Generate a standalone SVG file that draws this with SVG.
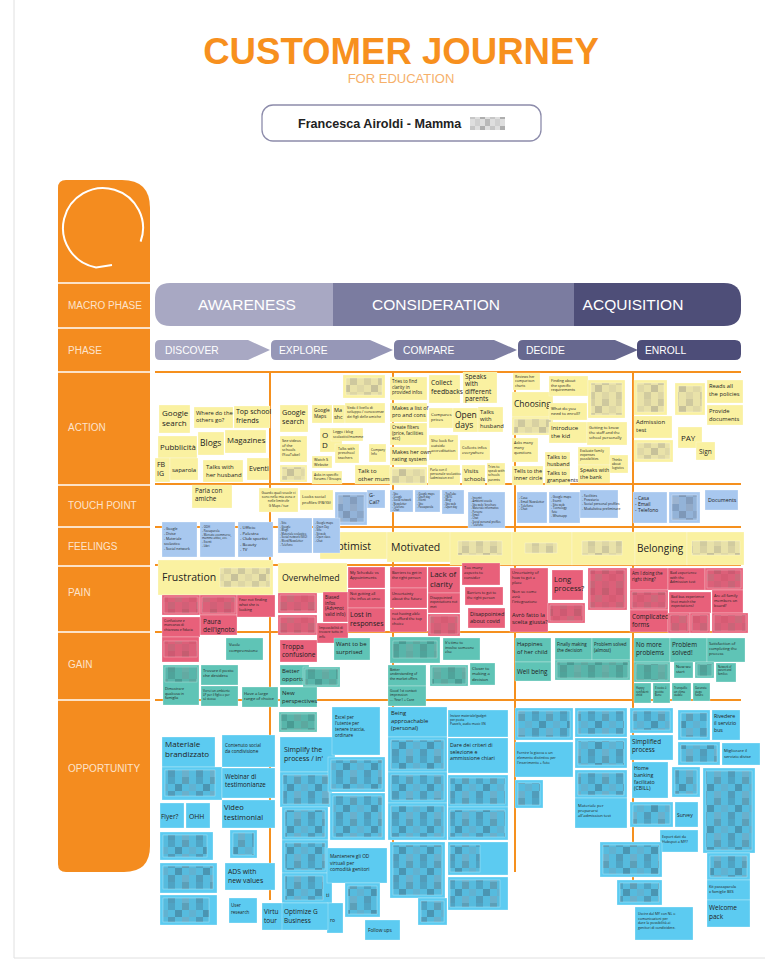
<svg xmlns="http://www.w3.org/2000/svg" width="780" height="972" viewBox="0 0 780 972">
<style>
.y{fill:#faf1a1}
.p{fill:#e8607a}
.t{fill:#5fc4b6}
.b{fill:#a8c8ef}
.o{fill:#5ccbf1}
.nt rect{stroke:#ffffff;stroke-opacity:.45;stroke-width:.6}
.nt text{font-family:"Open Sans","Liberation Sans",sans-serif;fill:#222}
.grid line{stroke:#f5901e;stroke-width:2}
.side text{font-family:"Liberation Sans",Arial,sans-serif;font-size:10px;fill:#fde3cc}
.macro text,.ph text{font-family:"Liberation Sans",Arial,sans-serif;fill:#ffffff}
</style>
<defs>
<pattern id="mY" width="28" height="21" patternUnits="userSpaceOnUse">
<rect width="28" height="21" fill="#e9e2a9"/><rect width="7" height="7" fill="#d8d1a2"/><rect x="14" width="7" height="7" fill="#cec89e"/><rect x="7" y="7" width="7" height="7" fill="#c7c19a"/><rect x="21" y="7" width="7" height="7" fill="#dfd8a6"/><rect y="14" width="7" height="7" fill="#d1cb9f"/><rect x="14" y="14" width="7" height="7" fill="#ddd6a5"/>
</pattern>
<pattern id="mP" width="28" height="21" patternUnits="userSpaceOnUse">
<rect width="28" height="21" fill="#dc6079"/><rect width="7" height="7" fill="#cd5a72"/><rect x="14" width="7" height="7" fill="#c55d70"/><rect x="7" y="7" width="7" height="7" fill="#cc6a7b"/><rect x="21" y="7" width="7" height="7" fill="#d65b73"/><rect y="14" width="7" height="7" fill="#c96578"/><rect x="14" y="14" width="7" height="7" fill="#d16077"/>
</pattern>
<pattern id="mT" width="28" height="21" patternUnits="userSpaceOnUse">
<rect width="28" height="21" fill="#58b5aa"/><rect width="7" height="7" fill="#4fa39a"/><rect x="14" width="7" height="7" fill="#63aaa2"/><rect x="7" y="7" width="7" height="7" fill="#499b93"/><rect x="21" y="7" width="7" height="7" fill="#5ca89f"/><rect y="14" width="7" height="7" fill="#529f97"/><rect x="14" y="14" width="7" height="7" fill="#68afa7"/>
</pattern>
<pattern id="mB" width="28" height="21" patternUnits="userSpaceOnUse">
<rect width="28" height="21" fill="#93b3d8"/><rect width="7" height="7" fill="#829fc2"/><rect x="14" width="7" height="7" fill="#92aac8"/><rect x="7" y="7" width="7" height="7" fill="#7e98b8"/><rect x="21" y="7" width="7" height="7" fill="#8aa6c8"/><rect y="14" width="7" height="7" fill="#9cb4d1"/><rect x="14" y="14" width="7" height="7" fill="#849dbd"/>
</pattern>
<pattern id="mO" width="28" height="21" patternUnits="userSpaceOnUse">
<rect width="28" height="21" fill="#56bbde"/><rect width="7" height="7" fill="#4fa3c3"/><rect x="14" width="7" height="7" fill="#5c9fb8"/><rect x="7" y="7" width="7" height="7" fill="#4a95b2"/><rect x="21" y="7" width="7" height="7" fill="#61b2d1"/><rect y="14" width="7" height="7" fill="#519cba"/><rect x="14" y="14" width="7" height="7" fill="#6ab0cc"/>
</pattern>
<pattern id="mG" width="20" height="14" patternUnits="userSpaceOnUse">
<rect width="20" height="14" fill="#d6d6d6"/><rect width="5" height="7" fill="#9a9a9a"/><rect x="10" width="5" height="7" fill="#b8b8b8"/><rect x="5" y="7" width="5" height="7" fill="#a8a8a8"/><rect x="15" y="7" width="5" height="7" fill="#c4c4c4"/>
</pattern>
</defs>

<!-- page -->
<rect x="0" y="0" width="780" height="972" fill="#ffffff"/>
<path d="M14,0 V958 H765" fill="none" stroke="#e0e0e0" stroke-width="1"/>

<!-- header -->
<g id="title">
<text x="401" y="64" text-anchor="middle" font-family="Liberation Sans, Arial, sans-serif" font-weight="bold" font-size="36.6" fill="#f7901e">CUSTOMER JOURNEY</text>
<text x="401" y="83" text-anchor="middle" font-family="Liberation Sans, Arial, sans-serif" font-size="13" fill="#f6b06a">FOR EDUCATION</text>
</g>
<g id="persona">
<rect x="262" y="105" width="279" height="36" rx="11" fill="#ffffff" stroke="#8d8cab" stroke-width="1.3"/>
<text x="298" y="128" font-family="Liberation Sans, Arial, sans-serif" font-weight="bold" font-size="12.6" fill="#222">Francesca Airoldi - Mamma</text>
<rect x="470" y="117" width="35" height="13" fill="url(#mG)" opacity="0.8"/>
</g>

<!-- side column -->
<g id="sidebar" class="side">
<path d="M66,180 H122 Q150,180 150,208 V846 Q150,872 124,872 H66 Q58,872 58,864 V188 Q58,180 66,180 Z" fill="#f48c1f"/>
<path d="M140.6,241.7 A40,40 0 1 0 96.1,267.4 L112,265" fill="none" stroke="#ffffff" stroke-width="2"/>
<g stroke="#ffffff" stroke-width="1.5">
<line x1="58" y1="283" x2="150" y2="283"/><line x1="58" y1="328" x2="150" y2="328"/><line x1="58" y1="372" x2="150" y2="372"/><line x1="58" y1="485" x2="150" y2="485"/><line x1="58" y1="527" x2="150" y2="527"/><line x1="58" y1="566" x2="150" y2="566"/><line x1="58" y1="632" x2="150" y2="632"/><line x1="58" y1="700" x2="150" y2="700"/>
</g>
<text x="68" y="309">MACRO PHASE</text>
<text x="68" y="354">PHASE</text>
<text x="68" y="431">ACTION</text>
<text x="68" y="509">TOUCH POINT</text>
<text x="68" y="550">FEELINGS</text>
<text x="68" y="596">PAIN</text>
<text x="68" y="668">GAIN</text>
<text x="68" y="772">OPPORTUNITY</text>
</g>

<!-- macro phases -->
<g id="macro" class="macro">
<path d="M170,283 H333 V326 H170 Q155,326 155,311 V298 Q155,283 170,283 Z" fill="#a8a8c3"/>
<rect x="333" y="283" width="241" height="43" fill="#7b7ca0"/>
<path d="M574,283 H724 Q741,283 741,300 V310 Q741,326 724,326 H574 Z" fill="#4e4e78"/>
<text x="247" y="310" text-anchor="middle" font-size="15.5">AWARENESS</text>
<text x="436" y="310" text-anchor="middle" font-size="15.5">CONSIDERATION</text>
<text x="633" y="310" text-anchor="middle" font-size="15.5">ACQUISITION</text>
</g>

<!-- phases -->
<g id="phases" class="ph">
<path d="M160,340 H248 L270,350 L248,360 H160 Q155,360 155,355 V345 Q155,340 160,340 Z" fill="#a8a8c3"/>
<path d="M276,340 H370 L393,350 L370,360 H276 Q271,360 271,355 V345 Q271,340 276,340 Z" fill="#9697b7"/>
<path d="M399,340 H494 L517,350 L494,360 H399 Q394,360 394,355 V345 Q394,340 399,340 Z" fill="#7e7fa3"/>
<path d="M523,340 H615 L638,350 L615,360 H523 Q518,360 518,355 V345 Q518,340 523,340 Z" fill="#67688f"/>
<path d="M642,340 H735 Q741,340 741,346 V354 Q741,360 735,360 H642 Q637,360 637,355 V345 Q637,340 642,340 Z" fill="#4d4d78"/>
<text x="165" y="354" font-size="10.3">DISCOVER</text>
<text x="279" y="354" font-size="10.3">EXPLORE</text>
<text x="403" y="354" font-size="10.3">COMPARE</text>
<text x="526" y="354" font-size="10.3">DECIDE</text>
<text x="645" y="354" font-size="10.3">ENROLL</text>
</g>

<!-- grid -->
<g id="grid" class="grid">
<line x1="155" y1="372" x2="741" y2="372"/>
<line x1="155" y1="484" x2="741" y2="484"/>
<line x1="155" y1="527" x2="741" y2="527"/>
<line x1="155" y1="565" x2="741" y2="565"/>
<line x1="155" y1="632" x2="741" y2="632"/>
<line x1="155" y1="700" x2="741" y2="700"/>
<line x1="270" y1="372" x2="270" y2="900"/>
<line x1="393" y1="372" x2="393" y2="850"/>
<line x1="515" y1="372" x2="515" y2="872"/>
<line x1="633" y1="372" x2="633" y2="893"/>
</g>

<!-- ACTION -->
<g class="nt">
<g id="a1"><rect class="y" x="159" y="405" width="31" height="28"/><text font-size="8" x="162" y="416"><tspan x="162">Google</tspan><tspan x="162" dy="10">search</tspan></text></g>
<g id="a2"><rect class="y" x="194" y="407" width="39" height="21"/><text font-size="5.8" x="196" y="415"><tspan x="196">Where do the</tspan><tspan x="196" dy="7">others go?</tspan></text></g>
<g id="a3"><rect class="y" x="234" y="406" width="36" height="22"/><text font-size="7" x="236" y="414"><tspan x="236">Top school</tspan><tspan x="236" dy="8.5">friends</tspan></text></g>
<g id="a4"><rect class="y" x="158" y="436" width="39" height="22"/><text font-size="7.8" x="160" y="450">Pubblicità</text></g>
<g id="a5"><rect class="y" x="198" y="432" width="26" height="23"/><text font-size="8.5" x="200" y="446">Blogs</text></g>
<g id="a6"><rect class="y" x="225" y="430" width="41" height="23"/><text font-size="7.8" x="227" y="443">Magazines</text></g>
<g id="a7"><rect class="y" x="155" y="458" width="15" height="24"/><text font-size="7" x="157" y="467"><tspan x="157">FB</tspan><tspan x="157" dy="9">IG</tspan></text></g>
<g id="a8"><rect class="y" x="170" y="458" width="28" height="22"/><text font-size="6" x="172" y="472">saparola</text></g>
<g id="a9"><rect class="y" x="203" y="460" width="40" height="22"/><text font-size="6" x="206" y="469"><tspan x="206">Talks with</tspan><tspan x="206" dy="8">her husband</tspan></text></g>
<g id="a10"><rect class="y" x="247" y="458" width="22" height="22"/><text font-size="7" x="249" y="471">Eventi</text></g>
<g id="a11"><rect class="y" x="343" y="375" width="42" height="23"/><rect x="346" y="378" width="36" height="17" fill="url(#mY)"/></g>
<g id="a12"><rect class="y" x="280" y="405" width="28" height="27"/><text font-size="7.2" x="282" y="415"><tspan x="282">Google</tspan><tspan x="282" dy="9">search</tspan></text></g>
<g id="a13"><rect class="y" x="312" y="405" width="20" height="18"/><text font-size="4.8" x="314" y="412"><tspan x="314">Google</tspan><tspan x="314" dy="6">Maps</tspan></text></g>
<g id="a14"><rect class="y" x="333" y="405" width="12" height="18"/><text font-size="5.5" x="334" y="412"><tspan x="334">Ma</tspan><tspan x="334" dy="7">shc</tspan></text></g>
<g id="a15"><rect class="y" x="345" y="403" width="40" height="20"/><text font-size="3.6" x="347" y="409"><tspan x="347">Vedo il livello di</tspan><tspan x="347" dy="4.4">sviluppo / conoscenze</tspan><tspan x="347" dy="4.4">dei figli delle amiche</tspan></text></g>
<g id="a16"><rect class="y" x="320" y="428" width="22" height="24"/><text font-size="8" x="322" y="438"><tspan x="322">O</tspan><tspan x="322" dy="10">D</tspan></text></g>
<g id="a17"><rect class="y" x="331" y="428" width="32" height="13"/><text font-size="3.6" x="333" y="433"><tspan x="333">Leggo i blog</tspan><tspan x="333" dy="4.5">scolastici/mamme</tspan></text></g>
<g id="a18"><rect class="y" x="335" y="444" width="24" height="19"/><text font-size="3.6" x="338" y="450"><tspan x="338">Talks with</tspan><tspan x="338" dy="4.4">preschool</tspan><tspan x="338" dy="4.4">teachers</tspan></text></g>
<g id="a19"><rect class="y" x="369" y="444" width="17" height="18"/><text font-size="3.2" x="371" y="451"><tspan x="371">Company</tspan><tspan x="371" dy="4">Info</tspan></text></g>
<g id="a20"><rect class="y" x="280" y="436" width="27" height="26"/><text font-size="3.8" x="282" y="442"><tspan x="282">See videos</tspan><tspan x="282" dy="4.6">of the</tspan><tspan x="282" dy="4.6">schools</tspan><tspan x="282" dy="4.6">(YouTube)</tspan></text></g>
<g id="a21"><rect class="y" x="280" y="465" width="27" height="17"/><rect x="282" y="467" width="23" height="13" fill="url(#mY)"/></g>
<g id="a22"><rect class="y" x="312" y="456" width="20" height="12"/><text font-size="3.8" x="314" y="461"><tspan x="314">Watch S</tspan><tspan x="314" dy="4.5">Website</tspan></text></g>
<g id="a23"><rect class="y" x="312" y="471" width="30" height="13"/><text font-size="3.5" x="314" y="476"><tspan x="314">Asks in specific</tspan><tspan x="314" dy="4.3">forums / Groups</tspan></text></g>
<g id="a24"><rect class="y" x="355" y="465" width="35" height="19"/><text font-size="6" x="358" y="473"><tspan x="358">Talk to</tspan><tspan x="358" dy="7.5">other mums</tspan></text></g>
<g id="a25"><rect class="y" x="390" y="377" width="37" height="23"/><text font-size="4.5" x="392" y="383"><tspan x="392">Tries to find</tspan><tspan x="392" dy="5.5">clarity in</tspan><tspan x="392" dy="5.5">provided infos</tspan></text></g>
<g id="a26"><rect class="y" x="429" y="375" width="31" height="28"/><text font-size="6.8" x="431" y="385"><tspan x="431">Collect</tspan><tspan x="431" dy="8.5">feedbacks</tspan></text></g>
<g id="a27"><rect class="y" x="463" y="372" width="34" height="31"/><text font-size="6.5" x="465" y="379"><tspan x="465">Speaks</tspan><tspan x="465" dy="7.3">with</tspan><tspan x="465" dy="7.3">different</tspan><tspan x="465" dy="7.3">parents</tspan></text></g>
<g id="a28"><rect class="y" x="390" y="403" width="37" height="19"/><text font-size="5.5" x="392" y="410"><tspan x="392">Makes a list of</tspan><tspan x="392" dy="7">pro and cons</tspan></text></g>
<g id="a29"><rect class="y" x="429" y="408" width="24" height="20"/><text font-size="4.3" x="431" y="416"><tspan x="431">Compares</tspan><tspan x="431" dy="5.3">prices</tspan></text></g>
<g id="a30"><rect class="y" x="453" y="408" width="25" height="24"/><text font-size="8.5" x="455" y="418"><tspan x="455">Open</tspan><tspan x="455" dy="10">days</tspan></text></g>
<g id="a31"><rect class="y" x="478" y="407" width="25" height="25"/><text font-size="5.8" x="480" y="414"><tspan x="480">Talks</tspan><tspan x="480" dy="7">with</tspan><tspan x="480" dy="7">husband</tspan></text></g>
<g id="a32"><rect class="y" x="390" y="423" width="37" height="22"/><text font-size="4.5" x="392" y="429"><tspan x="392">Create filters</tspan><tspan x="392" dy="5.5">(price, facilities</tspan><tspan x="392" dy="5.5">ecc)</tspan></text></g>
<g id="a33"><rect class="y" x="429" y="435" width="29" height="25"/><text font-size="4" x="431" y="442"><tspan x="431">She look for</tspan><tspan x="431" dy="5">outside</tspan><tspan x="431" dy="5">accreditation</tspan></text></g>
<g id="a34"><rect class="y" x="460" y="440" width="30" height="20"/><text font-size="4" x="462" y="449"><tspan x="462">Collects infos</tspan><tspan x="462" dy="5">everywhere</tspan></text></g>
<g id="a35"><rect class="y" x="390" y="447" width="37" height="18"/><text font-size="5.5" x="392" y="454"><tspan x="392">Makes her own</tspan><tspan x="392" dy="7">rating system</tspan></text></g>
<g id="a36"><rect class="y" x="390" y="467" width="37" height="18"/><rect x="392" y="469" width="33" height="14" fill="url(#mY)"/></g>
<g id="a37"><rect class="y" x="428" y="465" width="32" height="20"/><text font-size="3.3" x="430" y="471"><tspan x="430">Parla con il</tspan><tspan x="430" dy="4.2">personale scolastico</tspan><tspan x="430" dy="4.2">(admission ecc)</tspan></text></g>
<g id="a38"><rect class="y" x="462" y="465" width="23" height="20"/><text font-size="6" x="464" y="473"><tspan x="464">Visits</tspan><tspan x="464" dy="7.5">schools</tspan></text></g>
<g id="a39"><rect class="y" x="487" y="463" width="18" height="22"/><text font-size="3.3" x="488" y="468"><tspan x="488">Tries to</tspan><tspan x="488" dy="4.2">speak with</tspan><tspan x="488" dy="4.2">schools</tspan><tspan x="488" dy="4.2">parents</tspan></text></g>
<g id="a40"><rect class="y" x="513" y="373" width="27" height="17"/><text font-size="3.5" x="515" y="378"><tspan x="515">Reviews her</tspan><tspan x="515" dy="4.3">comparison</tspan><tspan x="515" dy="4.3">charts</tspan></text></g>
<g id="a41"><rect class="y" x="512" y="392" width="41" height="25"/><text font-size="8.5" x="514" y="407">Choosing</text></g>
<g id="a42"><rect class="y" x="512" y="417" width="41" height="18"/><rect x="514" y="419" width="37" height="14" fill="url(#mY)"/></g>
<g id="a43"><rect class="y" x="512" y="438" width="26" height="24"/><text font-size="3.8" x="514" y="444"><tspan x="514">Asks many</tspan><tspan x="514" dy="4.8">many</tspan><tspan x="514" dy="4.8">questions</tspan></text></g>
<g id="a44"><rect class="y" x="512" y="466" width="31" height="19"/><text font-size="5.5" x="514" y="473"><tspan x="514">Tells to the</tspan><tspan x="514" dy="7">inner circle</tspan></text></g>
<g id="a45"><rect class="y" x="545" y="452" width="25" height="16"/><text font-size="5.5" x="547" y="459"><tspan x="547">Talks to</tspan><tspan x="547" dy="6.5">husband</tspan></text></g>
<g id="a46"><rect class="y" x="545" y="468" width="25" height="17"/><text font-size="5.5" x="547" y="475"><tspan x="547">Talks to</tspan><tspan x="547" dy="6.5">granparents</tspan></text></g>
<g id="a47"><rect class="y" x="549" y="376" width="39" height="20"/><text font-size="3.8" x="551" y="382"><tspan x="551">Finding about</tspan><tspan x="551" dy="4.6">the specific</tspan><tspan x="551" dy="4.6">requirements</tspan></text></g>
<g id="a48"><rect class="y" x="549" y="403" width="38" height="17"/><text font-size="4.2" x="551" y="410"><tspan x="551">What do you</tspan><tspan x="551" dy="5.2">need to enroll?</tspan></text></g>
<g id="a49"><rect class="y" x="549" y="422" width="38" height="21"/><text font-size="6" x="551" y="430"><tspan x="551">Introduce</tspan><tspan x="551" dy="7.5">the kid</tspan></text></g>
<g id="a50"><rect class="y" x="588" y="380" width="37" height="38"/><rect x="591" y="383" width="31" height="32" fill="url(#mY)"/></g>
<g id="a51"><rect class="y" x="587" y="422" width="40" height="23"/><text font-size="4" x="589" y="429"><tspan x="589">Getting to know</tspan><tspan x="589" dy="5">the staff and the</tspan><tspan x="589" dy="5">school personally</tspan></text></g>
<g id="a52"><rect class="y" x="578" y="447" width="32" height="18"/><text font-size="3.4" x="580" y="452"><tspan x="580">Evaluate family</tspan><tspan x="580" dy="4.2">expenses</tspan><tspan x="580" dy="4.2">possibilities</tspan></text></g>
<g id="a53"><rect class="y" x="578" y="465" width="32" height="18"/><text font-size="5.3" x="580" y="472"><tspan x="580">Speaks with</tspan><tspan x="580" dy="6.5">the bank</tspan></text></g>
<g id="a54"><rect class="y" x="610" y="455" width="18" height="18"/><text font-size="3.2" x="612" y="461"><tspan x="612">Thinks</tspan><tspan x="612" dy="4">about</tspan><tspan x="612" dy="4">logistics</tspan></text></g>
<g id="a55"><rect class="y" x="634" y="380" width="33" height="35"/><rect x="637" y="383" width="27" height="29" fill="url(#mY)"/></g>
<g id="a56"><rect class="y" x="634" y="416" width="38" height="22"/><text font-size="6" x="636" y="424"><tspan x="636">Admission</tspan><tspan x="636" dy="7.5">test</tspan></text></g>
<g id="a57"><rect class="y" x="634" y="440" width="39" height="22"/><rect x="637" y="443" width="33" height="16" fill="url(#mY)"/></g>
<g id="a58"><rect class="y" x="675" y="383" width="30" height="32"/><rect x="678" y="386" width="24" height="26" fill="url(#mY)"/></g>
<g id="a59"><rect class="y" x="707" y="380" width="36" height="23"/><text font-size="5.8" x="709" y="388"><tspan x="709">Reads all</tspan><tspan x="709" dy="7.5">the policies</tspan></text></g>
<g id="a60"><rect class="y" x="707" y="405" width="36" height="20"/><text font-size="5.8" x="709" y="413"><tspan x="709">Provide</tspan><tspan x="709" dy="7.5">documents</tspan></text></g>
<g id="a61"><rect class="y" x="678" y="427" width="24" height="21"/><text font-size="8" x="681" y="441">PAY</text></g>
<g id="a62"><rect class="y" x="696" y="442" width="19" height="18"/><text font-size="6.5" x="699" y="454">Sign</text></g>
</g>

<!-- TOUCH POINT -->
<g class="nt">
<g id="t1"><rect class="y" x="192" y="485" width="40" height="23"/><text font-size="6.3" x="195" y="493"><tspan x="195">Parla con</tspan><tspan x="195" dy="8">amiche</tspan></text></g>
<g id="t2"><rect class="y" x="259" y="488" width="39" height="24"/><text font-size="3.3" text-anchor="middle" x="278.5" y="494"><tspan x="278.5">Guardo quali scuole ci</tspan><tspan x="278.5" dy="4.2">sono nella mia zona e</tspan><tspan x="278.5" dy="4.2">nelle limitrofe</tspan><tspan x="278.5" dy="4.2">G Maps / tue</tspan></text></g>
<g id="t3"><rect class="y" x="300" y="490" width="33" height="20"/><text font-size="4.2" x="302" y="498"><tspan x="302">Looks social</tspan><tspan x="302" dy="5.5">profiles (FB/IG)</tspan></text></g>
<g id="t5"><rect class="b" x="367" y="490" width="18" height="18"/><text font-size="5.5" x="369" y="497"><tspan x="369">G-</tspan><tspan x="369" dy="7">Cal?</tspan></text></g>
<g id="t6"><rect class="b" x="390" y="490" width="23" height="22"/><text font-size="2.6" x="392" y="495"><tspan x="392">- Sito</tspan><tspan x="392" dy="3.2">- Google</tspan><tspan x="392" dy="3.2">- Social network</tspan><tspan x="392" dy="3.2">- Newsletter</tspan><tspan x="392" dy="3.2">- Telefono</tspan><tspan x="392" dy="3.2">- Chat</tspan></text></g>
<g id="t7"><rect class="b" x="415" y="490" width="25" height="22"/><text font-size="2.6" x="417" y="495"><tspan x="417">- Google maps</tspan><tspan x="417" dy="3.2">- Open day</tspan><tspan x="417" dy="3.2">- Eventi</tspan><tspan x="417" dy="3.2">- Sito</tspan><tspan x="417" dy="3.2">- Passaparola</tspan></text></g>
<g id="t8"><rect class="b" x="442" y="490" width="22" height="24"/><text font-size="2.6" x="444" y="495"><tspan x="444">- YouTube</tspan><tspan x="444" dy="3.2">- FB/IG</tspan><tspan x="444" dy="3.2">- Blog</tspan><tspan x="444" dy="3.2">- Sito web</tspan><tspan x="444" dy="3.2">- Open day</tspan></text></g>
<g id="t9"><rect class="b" x="468" y="492" width="37" height="36"/><text font-size="2.6" x="471" y="499"><tspan x="471">- Incontri</tspan><tspan x="471" dy="3.4">- Ambienti scuola</tspan><tspan x="471" dy="3.4">- Sito web / brochure</tspan><tspan x="471" dy="3.4">- Materiale informativo</tspan><tspan x="471" dy="3.4">- Persone</tspan><tspan x="471" dy="3.4">- Email</tspan><tspan x="471" dy="3.4">- Chat</tspan><tspan x="471" dy="3.4">- Social personal profiles</tspan><tspan x="471" dy="3.4">- Telefono</tspan></text></g>
<g id="t10"><rect class="b" x="517" y="492" width="30" height="31"/><text font-size="3" x="519" y="499"><tspan x="519">- Casa</tspan><tspan x="519" dy="3.8">- Email Newsletter</tspan><tspan x="519" dy="3.8">- Telefono</tspan><tspan x="519" dy="3.8">- Chat</tspan></text></g>
<g id="t11"><rect class="b" x="549" y="492" width="31" height="31"/><text font-size="3" x="551" y="498"><tspan x="551">- Google maps</tspan><tspan x="551" dy="3.8">- Eventi</tspan><tspan x="551" dy="3.8">- Sito web</tspan><tspan x="551" dy="3.8">- Tecnology</tspan><tspan x="551" dy="3.8">  fate</tspan><tspan x="551" dy="3.8">- Whatsapp</tspan></text></g>
<g id="t12"><rect class="b" x="580" y="490" width="38" height="28"/><text font-size="3.3" x="582" y="497"><tspan x="582">- Facilities</tspan><tspan x="582" dy="4.2">- Prezziario</tspan><tspan x="582" dy="4.2">- Social personal profiles</tspan><tspan x="582" dy="4.2">- Modulistica preliminare</tspan></text></g>
<g id="t13"><rect class="b" x="633" y="492" width="34" height="31"/><text font-size="5" x="635" y="500"><tspan x="635">- Casa</tspan><tspan x="635" dy="6.2">- Email</tspan><tspan x="635" dy="6.2">- Telefono</tspan></text></g>
<g id="t14"><rect class="b" x="669" y="492" width="31" height="31"/><rect x="672" y="495" width="25" height="25" fill="url(#mB)"/></g>
<g id="t15"><rect class="b" x="705" y="490" width="33" height="20"/><text font-size="5.3" x="708" y="502">Documents</text></g>
<g id="t16"><rect class="b" x="162" y="522" width="35" height="35"/><text font-size="3.5" x="164" y="530"><tspan x="164">- Google</tspan><tspan x="164" dy="5">- Divise</tspan><tspan x="164" dy="5">- Materiale</tspan><tspan x="164" dy="5">scolastico</tspan><tspan x="164" dy="5">- Social network</tspan></text></g>
<g id="t17"><rect class="b" x="200" y="522" width="35" height="35"/><text font-size="2.8" x="202" y="528"><tspan x="202">- OOH</tspan><tspan x="202" dy="3.8">- Passaparola</tspan><tspan x="202" dy="3.8">- Mercato ecommerce,</tspan><tspan x="202" dy="3.8">mamme attive, ecc.</tspan><tspan x="202" dy="3.8">- Eventi</tspan><tspan x="202" dy="3.8">- Libri</tspan></text></g>
<g id="t18"><rect class="b" x="238" y="522" width="35" height="35"/><text font-size="4.3" x="240" y="529"><tspan x="240">- Ufficio</tspan><tspan x="240" dy="5.5">- Palestra</tspan><tspan x="240" dy="5.5">- Club sportivi</tspan><tspan x="240" dy="5.5">- Beauty</tspan><tspan x="240" dy="5.5">- TV</tspan></text></g>
</g>

<!-- FEELINGS -->
<g class="nt">
<g id="f1"><rect class="y" x="320" y="532" width="67" height="27"/><text font-size="10.5" x="329" y="550">Optimist</text></g>
<g id="f2"><rect class="y" x="387" y="532" width="65" height="30"/><text font-size="10.5" x="391" y="551">Motivated</text></g>
<g id="f3"><rect class="y" x="450" y="532" width="62" height="33"/><rect x="458" y="541" width="44" height="14" fill="url(#mY)"/></g>
<g id="f4"><rect class="y" x="512" y="532" width="60" height="33"/><rect x="525" y="543" width="32" height="10" fill="url(#mY)"/></g>
<g id="f5"><rect class="y" x="572" y="532" width="63" height="33"/><rect x="582" y="541" width="40" height="14" fill="url(#mY)"/></g>
<g id="f6"><rect class="y" x="635" y="532" width="52" height="33"/><text font-size="10" x="637" y="552">Belonging</text></g>
<g id="f7"><rect class="y" x="687" y="532" width="57" height="33"/><rect x="692" y="541" width="48" height="14" fill="url(#mY)"/></g>
<g id="t4"><rect class="b" x="335" y="492" width="32" height="33"/><rect x="338" y="495" width="26" height="27" fill="url(#mB)"/></g>
<g id="t19"><rect class="b" x="278" y="518" width="34" height="35"/><text font-size="2.7" x="280" y="524"><tspan x="280">- Sito</tspan><tspan x="280" dy="3.6">- Google</tspan><tspan x="280" dy="3.6">- Blogs</tspan><tspan x="280" dy="3.6">- Materiale scolastico</tspan><tspan x="280" dy="3.6">- Social network (SEO)</tspan><tspan x="280" dy="3.6">- Word/Newsletter</tspan><tspan x="280" dy="3.6">- Telefono</tspan></text></g>
<g id="t20"><rect class="b" x="313" y="518" width="27" height="35"/><text font-size="2.7" x="315" y="524"><tspan x="315">- Google maps</tspan><tspan x="315" dy="3.6">- Open Day</tspan><tspan x="315" dy="3.6">- Sito</tspan><tspan x="315" dy="3.6">- Sit web</tspan><tspan x="315" dy="3.6">- Open class</tspan><tspan x="315" dy="3.6">- Chat</tspan></text></g>
</g>

<!-- PAIN -->
<g class="nt">
<g id="f8"><rect class="y" x="158" y="560" width="115" height="35"/><text font-size="10.5" x="162" y="581">Frustration</text><rect x="220" y="568" width="50" height="19" fill="url(#mY)"/></g>
<g id="f9"><rect class="y" x="278" y="563" width="69" height="30"/><text font-size="8.8" x="282" y="581">Overwhelmed</text></g>
<g id="p1"><rect class="p" x="162" y="595" width="38" height="20"/><rect x="164" y="597" width="34" height="16" fill="url(#mP)"/></g>
<g id="p2"><rect class="p" x="200" y="595" width="37" height="20"/><rect x="202" y="597" width="33" height="16" fill="url(#mP)"/></g>
<g id="p3"><rect class="p" x="200" y="615" width="37" height="20"/><text font-size="6.5" x="203" y="624"><tspan x="203">Paura</tspan><tspan x="203" dy="8">dell'ignoto</tspan></text></g>
<g id="p4"><rect class="p" x="237" y="595" width="38" height="22"/><text font-size="3.8" x="239" y="601"><tspan x="239">Fear not finding</tspan><tspan x="239" dy="4.8">what she is</tspan><tspan x="239" dy="4.8">looking</tspan></text></g>
<g id="p5"><rect class="p" x="162" y="617" width="38" height="20"/><text font-size="3.4" x="164" y="622"><tspan x="164">Confusione e</tspan><tspan x="164" dy="4.3">mancanza di</tspan><tspan x="164" dy="4.3">chiarezza e fiducia</tspan></text></g>
<g id="p5b"><rect class="p" x="162" y="637" width="37" height="25"/><rect x="164" y="641" width="33" height="16" fill="url(#mP)"/></g>
<g id="p6"><rect class="p" x="278" y="593" width="39" height="20"/><rect x="280" y="595" width="35" height="16" fill="url(#mP)"/></g>
<g id="p7"><rect class="p" x="278" y="615" width="39" height="20"/><rect x="280" y="617" width="35" height="16" fill="url(#mP)"/></g>
<g id="p8"><rect class="p" x="323" y="592" width="25" height="30"/><text font-size="4.5" x="325" y="599"><tspan x="325">Biased</tspan><tspan x="325" dy="5.5">infos</tspan><tspan x="325" dy="5.5">(Adv=not</tspan><tspan x="325" dy="5.5">valid info)</tspan></text></g>
<g id="p9"><rect class="p" x="317" y="623" width="31" height="20"/><text font-size="3.4" x="319" y="629"><tspan x="319">Impossibilità di</tspan><tspan x="319" dy="4.3">trovare tutto in</tspan><tspan x="319" dy="4.3">info</tspan></text></g>
<g id="p10"><rect class="p" x="348" y="567" width="37" height="21"/><text font-size="4" x="350" y="574"><tspan x="350">My Schedule vs</tspan><tspan x="350" dy="5">Appointments</tspan></text></g>
<g id="p11"><rect class="p" x="348" y="589" width="37" height="19"/><text font-size="3.9" x="350" y="595"><tspan x="350">Not getting all</tspan><tspan x="350" dy="5">the infos at once</tspan></text></g>
<g id="p12"><rect class="p" x="348" y="608" width="37" height="24"/><text font-size="7" x="350" y="617"><tspan x="350">Lost in</tspan><tspan x="350" dy="8.5">responses</tspan></text></g>
<g id="p13"><rect class="p" x="390" y="567" width="37" height="21"/><text font-size="3.8" x="392" y="574"><tspan x="392">Barriers to get in</tspan><tspan x="392" dy="5">the right person</tspan></text></g>
<g id="p14"><rect class="p" x="390" y="588" width="37" height="20"/><text font-size="3.9" x="392" y="595"><tspan x="392">Uncertainty</tspan><tspan x="392" dy="5">about the future</tspan></text></g>
<g id="p15"><rect class="p" x="390" y="609" width="37" height="23"/><text font-size="3.9" x="392" y="615"><tspan x="392">not having able</tspan><tspan x="392" dy="5">to afford the top</tspan><tspan x="392" dy="5">choice</tspan></text></g>
<g id="p16"><rect class="p" x="428" y="567" width="32" height="26"/><text font-size="8" x="430" y="577"><tspan x="430">Lack of</tspan><tspan x="430" dy="9.5">clarity</tspan></text></g>
<g id="p17"><rect class="p" x="428" y="593" width="32" height="20"/><text font-size="3.5" x="430" y="599"><tspan x="430">Disappointed</tspan><tspan x="430" dy="4.4">expectations not</tspan><tspan x="430" dy="4.4">met</tspan></text></g>
<g id="p18"><rect class="p" x="428" y="614" width="32" height="22"/><rect x="430" y="616" width="28" height="18" fill="url(#mP)"/></g>
<g id="p19"><rect class="p" x="462" y="563" width="38" height="22"/><text font-size="4" x="464" y="569"><tspan x="464">Too many</tspan><tspan x="464" dy="5">aspects to</tspan><tspan x="464" dy="5">consider</tspan></text></g>
<g id="p20"><rect class="p" x="465" y="587" width="38" height="18"/><text font-size="3.7" x="467" y="594"><tspan x="467">Barriers to get to</tspan><tspan x="467" dy="5">the right person</tspan></text></g>
<g id="p21"><rect class="p" x="468" y="608" width="37" height="20"/><text font-size="5.5" x="470" y="616"><tspan x="470">Disappointed</tspan><tspan x="470" dy="7">about covid</tspan></text></g>
<g id="p22"><rect class="p" x="510" y="568" width="38" height="64"/><text font-size="4" x="512" y="574"><tspan x="512">Uncertainty of</tspan><tspan x="512" dy="4.8">how to get a</tspan><tspan x="512" dy="4.8">place</tspan></text><text font-size="4" x="512" y="593"><tspan x="512">Non so come</tspan><tspan x="512" dy="4.8">avrà</tspan><tspan x="512" dy="4.8">l'integrazione</tspan></text><text font-size="5.8" x="512" y="617"><tspan x="512">Avrò fatto la</tspan><tspan x="512" dy="7">scelta giusta?</tspan></text></g>
<g id="p23"><rect class="p" x="552" y="570" width="31" height="30"/><text font-size="7.5" x="554" y="582"><tspan x="554">Long</tspan><tspan x="554" dy="9">process?</tspan></text></g>
<g id="p24"><rect class="p" x="548" y="603" width="37" height="20"/><rect x="550" y="605" width="33" height="16" fill="url(#mP)"/></g>
<g id="p25"><rect class="p" x="588" y="568" width="39" height="42"/><rect x="590" y="570" width="35" height="38" fill="url(#mP)"/></g>
<g id="p26"><rect class="p" x="630" y="568" width="38" height="22"/><text font-size="4.5" x="632" y="575"><tspan x="632">Am I doing the</tspan><tspan x="632" dy="5.5">right thing?</tspan></text></g>
<g id="p27"><rect class="p" x="630" y="590" width="38" height="20"/><rect x="632" y="592" width="34" height="16" fill="url(#mP)"/></g>
<g id="p28"><rect class="p" x="630" y="610" width="38" height="22"/><text font-size="6.3" x="632" y="619"><tspan x="632">Complicated</tspan><tspan x="632" dy="8">forms</tspan></text></g>
<g id="p29"><rect class="p" x="668" y="568" width="37" height="22"/><text font-size="3.7" x="670" y="574"><tspan x="670">Bad experience</tspan><tspan x="670" dy="4.6">with the</tspan><tspan x="670" dy="4.6">Admission test</tspan></text></g>
<g id="p30"><rect class="p" x="705" y="568" width="38" height="22"/><rect x="707" y="570" width="34" height="18" fill="url(#mP)"/></g>
<g id="p31"><rect class="p" x="669" y="592" width="42" height="21"/><text font-size="3.6" x="671" y="598"><tspan x="671">Bad bus experience</tspan><tspan x="671" dy="4.6">(not match the</tspan><tspan x="671" dy="4.6">expectations)</tspan></text></g>
<g id="p32"><rect class="p" x="712" y="590" width="31" height="23"/><text font-size="3.9" x="714" y="597"><tspan x="714">Are all family</tspan><tspan x="714" dy="4.8">members on</tspan><tspan x="714" dy="4.8">board?</tspan></text></g>
<g id="p33"><rect class="p" x="668" y="613" width="22" height="20"/><rect x="670" y="615" width="18" height="16" fill="url(#mP)"/></g>
<g id="p34"><rect class="p" x="690" y="613" width="20" height="20"/><rect x="692" y="615" width="16" height="16" fill="url(#mP)"/></g>
<g id="p35"><rect class="p" x="712" y="613" width="36" height="20"/><rect x="714" y="615" width="32" height="16" fill="url(#mP)"/></g>
</g>

<!-- GAIN -->
<g class="nt">
<g id="g1"><rect class="t" x="226" y="638" width="37" height="22"/><text font-size="4.3" x="229" y="646"><tspan x="229">Vuole</tspan><tspan x="229" dy="5.5">comprensione</tspan></text></g>
<g id="g2"><rect class="p" x="280" y="640" width="37" height="22"/><text font-size="6.5" x="282" y="649"><tspan x="282">Troppa</tspan><tspan x="282" dy="8">confusione</tspan></text></g>
<g id="g3"><rect class="t" x="334" y="638" width="36" height="22"/><text font-size="6" x="336" y="646"><tspan x="336">Want to be</tspan><tspan x="336" dy="7.5">surprised</tspan></text></g>
<g id="g4"><rect class="t" x="390" y="637" width="50" height="26"/><rect x="393" y="641" width="44" height="17" fill="url(#mT)"/></g>
<g id="g5"><rect class="t" x="443" y="638" width="37" height="22"/><text font-size="3.7" x="445" y="644"><tspan x="445">It's time to</tspan><tspan x="445" dy="4.6">involve someone</tspan><tspan x="445" dy="4.6">else</tspan></text></g>
<g id="g6"><rect class="t" x="515" y="638" width="36" height="24"/><text font-size="5.8" x="517" y="646"><tspan x="517">Happines</tspan><tspan x="517" dy="7.5">of her child</tspan></text></g>
<g id="g7"><rect class="t" x="515" y="662" width="36" height="19"/><text font-size="6.3" x="517" y="674">Well being</text></g>
<g id="g8"><rect class="t" x="555" y="638" width="37" height="22"/><text font-size="4.5" x="557" y="646"><tspan x="557">Finally making</tspan><tspan x="557" dy="5.5">the decision</tspan></text></g>
<g id="g9"><rect class="t" x="592" y="638" width="38" height="22"/><text font-size="4.5" x="594" y="646"><tspan x="594">Problem solved</tspan><tspan x="594" dy="5.5">(almost)</tspan></text></g>
<g id="g10"><rect class="t" x="555" y="660" width="75" height="20"/><rect x="557" y="662" width="71" height="16" fill="url(#mT)"/></g>
<g id="g11"><rect class="t" x="634" y="638" width="36" height="24"/><text font-size="6.3" x="636" y="647"><tspan x="636">No more</tspan><tspan x="636" dy="7.5">problems</tspan></text></g>
<g id="g12"><rect class="t" x="670" y="638" width="37" height="24"/><text font-size="6.3" x="672" y="647"><tspan x="672">Problem</tspan><tspan x="672" dy="7.5">solved!</tspan></text></g>
<g id="g13"><rect class="t" x="707" y="638" width="38" height="24"/><text font-size="4" x="709" y="645"><tspan x="709">Satisfaction of</tspan><tspan x="709" dy="5">completing the</tspan><tspan x="709" dy="5">process</tspan></text></g>
<g id="g14"><rect class="t" x="634" y="662" width="36" height="20"/><rect x="636" y="664" width="32" height="16" fill="url(#mT)"/></g>
<g id="g15"><rect class="t" x="674" y="662" width="19" height="16"/><text font-size="4" x="676" y="668"><tspan x="676">Now we</tspan><tspan x="676" dy="5">start</tspan></text></g>
<g id="g16"><rect class="t" x="695" y="662" width="19" height="16"/><rect x="697" y="664" width="15" height="12" fill="url(#mT)"/></g>
<g id="g17"><rect class="t" x="716" y="663" width="20" height="19"/><text font-size="2.6" x="718" y="668"><tspan x="718">Network of</tspan><tspan x="718" dy="3.3">parent and</tspan><tspan x="718" dy="3.3">families</tspan></text></g>
<g id="g18"><rect class="t" x="634" y="683" width="17" height="20"/><text font-size="2.8" x="636" y="689"><tspan x="636">Happy</tspan><tspan x="636" dy="3.5">confident</tspan><tspan x="636" dy="3.5">child</tspan></text></g>
<g id="g19"><rect class="t" x="653" y="683" width="17" height="20"/><text font-size="2.8" x="655" y="689"><tspan x="655">Il costo è</tspan><tspan x="655" dy="3.5">gestito</tspan><tspan x="655" dy="3.5">bene</tspan></text></g>
<g id="g20"><rect class="t" x="672" y="683" width="19" height="18"/><text font-size="2.8" x="674" y="689"><tspan x="674">Tranquillo</tspan><tspan x="674" dy="3.5">un clima</tspan><tspan x="674" dy="3.5">stabile</tspan></text></g>
<g id="g21"><rect class="t" x="693" y="683" width="17" height="18"/><text font-size="2.8" x="695" y="689"><tspan x="695">Garanzia</tspan><tspan x="695" dy="3.5">stage</tspan><tspan x="695" dy="3.5">futuro</tspan></text></g>
<g id="g22"><rect class="t" x="163" y="665" width="36" height="40"/><rect x="165" y="667" width="32" height="15" fill="url(#mT)"/><text font-size="3.6" x="165" y="690"><tspan x="165">Dimostrare</tspan><tspan x="165" dy="4.6">qualcosa in</tspan><tspan x="165" dy="4.6">famiglia</tspan></text></g>
<g id="g23"><rect class="t" x="201" y="665" width="37" height="20"/><text font-size="4.2" x="203" y="672"><tspan x="203">Trovare il posto</tspan><tspan x="203" dy="5.3">che desidera</tspan></text></g>
<g id="g24"><rect class="t" x="201" y="686" width="37" height="20"/><text font-size="3" x="203" y="692"><tspan x="203">Vorrei un ambiente</tspan><tspan x="203" dy="3.9">LP per il figlio e per</tspan><tspan x="203" dy="3.9">sé stessa</tspan></text></g>
<g id="g25"><rect class="t" x="242" y="687" width="36" height="20"/><text font-size="4.2" x="244" y="695"><tspan x="244">Have a large</tspan><tspan x="244" dy="5.3">range of choice</tspan></text></g>
<g id="g26"><rect class="t" x="280" y="665" width="29" height="20"/><text font-size="6" x="282" y="673"><tspan x="282">Better</tspan><tspan x="282" dy="7.5">opportu</tspan></text></g>
<g id="g27"><rect class="t" x="303" y="667" width="37" height="20"/><rect x="305" y="669" width="33" height="16" fill="url(#mT)"/></g>
<g id="g28"><rect class="t" x="280" y="687" width="37" height="20"/><text font-size="6" x="282" y="695"><tspan x="282">New</tspan><tspan x="282" dy="7.5">perspectives</tspan></text></g>
<g id="g29"><rect class="t" x="388" y="665" width="38" height="21"/><text font-size="3.4" x="390" y="671"><tspan x="390">Better</tspan><tspan x="390" dy="4.4">understanding of</tspan><tspan x="390" dy="4.4">the market offers</tspan></text></g>
<g id="g30"><rect class="t" x="388" y="686" width="38" height="20"/><text font-size="3.4" x="390" y="692"><tspan x="390">Good 1st contact</tspan><tspan x="390" dy="4.4">impression</tspan><tspan x="390" dy="4.4">--- Year1 + Care</tspan></text></g>
<g id="g31"><rect class="t" x="430" y="665" width="38" height="21"/><rect x="432" y="667" width="34" height="17" fill="url(#mT)"/></g>
<g id="g32"><rect class="t" x="470" y="663" width="25" height="22"/><text font-size="4.2" x="472" y="670"><tspan x="472">Closer to</tspan><tspan x="472" dy="5.3">making a</tspan><tspan x="472" dy="5.3">decision</tspan></text></g>
</g>

<!-- OPPORTUNITY -->
<g class="nt">
<g id="o0"><rect class="t" x="279" y="712" width="38" height="20"/><rect x="281" y="714" width="34" height="16" fill="url(#mT)"/></g>
<g id="o1"><rect class="o" x="162" y="737" width="53" height="30"/><text font-size="8" x="165" y="747"><tspan x="165">Materiale</tspan><tspan x="165" dy="10">brandizzato</tspan></text></g>
<g id="o2"><rect class="o" x="162" y="767" width="60" height="33"/><rect x="165" y="770" width="50" height="26" fill="url(#mO)"/></g>
<g id="o3"><rect class="o" x="222" y="735" width="53" height="32"/><text font-size="4.6" x="225" y="747"><tspan x="225">Contenuto social</tspan><tspan x="225" dy="6">da condivisione</tspan></text></g>
<g id="o4"><rect class="o" x="222" y="768" width="53" height="30"/><text font-size="6.2" x="225" y="779"><tspan x="225">Webinar di</tspan><tspan x="225" dy="8">testimonianze</tspan></text></g>
<g id="o5"><rect class="o" x="222" y="800" width="53" height="28"/><text font-size="7.5" x="224" y="810"><tspan x="224">Video</tspan><tspan x="224" dy="10">testimonial</tspan></text></g>
<g id="o6"><rect class="o" x="160" y="803" width="24" height="25"/><text font-size="6.5" x="161" y="819">Flyer?</text></g>
<g id="o7"><rect class="o" x="186" y="803" width="24" height="25"/><text font-size="6.8" x="189" y="819">OHH</text></g>
<g id="o8"><rect class="o" x="160" y="832" width="53" height="28"/><rect x="163" y="835" width="44" height="22" fill="url(#mO)"/></g>
<g id="o9"><rect class="o" x="160" y="863" width="57" height="30"/><rect x="163" y="866" width="50" height="23" fill="url(#mO)"/></g>
<g id="o10"><rect class="o" x="160" y="895" width="57" height="30"/><rect x="163" y="898" width="46" height="24" fill="url(#mO)"/></g>
<g id="o11"><rect class="o" x="230" y="830" width="27" height="28"/><rect x="233" y="833" width="21" height="22" fill="url(#mO)"/></g>
<g id="o12"><rect class="o" x="225" y="863" width="50" height="27"/><text font-size="6.8" x="228" y="874"><tspan x="228">ADS with</tspan><tspan x="228" dy="9">new values</tspan></text></g>
<g id="o13"><rect class="o" x="229" y="898" width="28" height="25"/><text font-size="4.5" x="231" y="907"><tspan x="231">User</tspan><tspan x="231" dy="6.5">research</tspan></text></g>
<g id="o14"><rect class="o" x="280" y="737" width="55" height="35"/><text font-size="7" x="284" y="752"><tspan x="284">Simplify the</tspan><tspan x="284" dy="9">process / in'</tspan></text></g>
<g id="o15"><rect class="o" x="280" y="772" width="52" height="35"/><rect x="283" y="775" width="46" height="29" fill="url(#mO)"/></g>
<g id="o16"><rect class="o" x="332" y="707" width="48" height="48"/><text font-size="4.5" x="335" y="719"><tspan x="335">Excel per</tspan><tspan x="335" dy="6">l'utente per</tspan><tspan x="335" dy="6">tenere traccia,</tspan><tspan x="335" dy="6">ordinare</tspan></text></g>
<g id="o17"><rect class="o" x="328" y="757" width="57" height="35"/><rect x="331" y="760" width="51" height="29" fill="url(#mO)"/></g>
<g id="o18"><rect class="o" x="330" y="793" width="55" height="47"/><rect x="333" y="796" width="49" height="41" fill="url(#mO)"/></g>
<g id="o19"><rect class="o" x="282" y="807" width="46" height="33"/><rect x="285" y="810" width="40" height="27" fill="url(#mO)"/></g>
<g id="o20"><rect class="o" x="282" y="840" width="46" height="33"/><rect x="285" y="843" width="40" height="27" fill="url(#mO)"/></g>
<g id="o21"><rect class="o" x="282" y="873" width="50" height="30"/><rect x="285" y="876" width="38" height="24" fill="url(#mO)"/><text font-size="5.5" x="326" y="897">ti</text></g>
<g id="o22"><rect class="o" x="327" y="848" width="60" height="35"/><text font-size="4.8" x="330" y="858"><tspan x="330">Mantenere gli OD</tspan><tspan x="330" dy="6.5">virtuali per</tspan><tspan x="330" dy="6.5">comodità genitori</tspan></text></g>
<g id="o23"><rect class="o" x="345" y="883" width="35" height="34"/><rect x="348" y="886" width="29" height="28" fill="url(#mO)"/></g>
<g id="o26"><rect class="o" x="327" y="903" width="16" height="30"/><text font-size="5" x="330" y="922">ro</text></g>
<g id="o24"><rect class="o" x="262" y="903" width="22" height="27"/><text font-size="6.5" x="264" y="914"><tspan x="264">Virtu</tspan><tspan x="264" dy="9">tour</tspan></text></g>
<g id="o25"><rect class="o" x="282" y="903" width="46" height="27"/><text font-size="6.5" x="284" y="914"><tspan x="284">Optimize G</tspan><tspan x="284" dy="9">Business</tspan></text></g>
<g id="o27"><rect class="o" x="365" y="920" width="35" height="20"/><text font-size="4.8" x="368" y="932">Follow ups</text></g>
<g id="o28"><rect class="o" x="388" y="707" width="59" height="30"/><text font-size="5.8" x="391" y="715"><tspan x="391">Being</tspan><tspan x="391" dy="7.5">approachable</tspan><tspan x="391" dy="7.5">(personal)</tspan></text></g>
<g id="o29"><rect class="o" x="388" y="737" width="59" height="35"/><rect x="391" y="740" width="53" height="29" fill="url(#mO)"/></g>
<g id="o30"><rect class="o" x="388" y="772" width="59" height="31"/><rect x="391" y="775" width="53" height="25" fill="url(#mO)"/></g>
<g id="o31"><rect class="o" x="388" y="803" width="59" height="37"/><rect x="391" y="806" width="53" height="31" fill="url(#mO)"/></g>
<g id="o32"><rect class="o" x="390" y="842" width="55" height="56"/><rect x="393" y="845" width="49" height="50" fill="url(#mO)"/></g>
<g id="o33"><rect class="o" x="418" y="898" width="29" height="27"/><rect x="421" y="901" width="23" height="21" fill="url(#mO)"/></g>
<g id="o34"><rect class="o" x="448" y="710" width="60" height="27"/><text font-size="3.2" x="450" y="717"><tspan x="450">Inviare materiale/gadget</tspan><tspan x="450" dy="4">per posta</tspan><tspan x="450" dy="4">Puzzels, audio music EN</tspan></text></g>
<g id="o35"><rect class="o" x="448" y="738" width="60" height="35"/><text font-size="5.3" x="450" y="747"><tspan x="450">Dare dei criteri di</tspan><tspan x="450" dy="6.5">selezione e</tspan><tspan x="450" dy="6.5">ammissione chiari</tspan></text></g>
<g id="o36"><rect class="o" x="448" y="775" width="60" height="32"/><rect x="450" y="778" width="55" height="26" fill="url(#mO)"/></g>
<g id="o37"><rect class="o" x="448" y="807" width="60" height="33"/><rect x="450" y="810" width="55" height="27" fill="url(#mO)"/></g>
<g id="o38"><rect class="o" x="448" y="842" width="60" height="33"/><rect x="450" y="845" width="30" height="27" fill="url(#mO)"/></g>
<g id="o39"><rect class="o" x="448" y="877" width="60" height="33"/><rect x="450" y="880" width="50" height="27" fill="url(#mO)"/></g>
<g id="o40"><rect class="o" x="515" y="708" width="58" height="32"/><rect x="518" y="711" width="52" height="26" fill="url(#mO)"/></g>
<g id="o41"><rect class="o" x="515" y="742" width="58" height="35"/><text font-size="3.6" x="517" y="754"><tspan x="517">Fornire la giacca o un</tspan><tspan x="517" dy="4.8">elemento distintivo per</tspan><tspan x="517" dy="4.8">l'inserimento + foto</tspan></text></g>
<g id="o42"><rect class="o" x="515" y="780" width="28" height="28"/><rect x="518" y="783" width="22" height="22" fill="url(#mO)"/></g>
<g id="o43"><rect class="o" x="575" y="708" width="52" height="29"/><rect x="578" y="711" width="46" height="23" fill="url(#mO)"/></g>
<g id="o44"><rect class="o" x="575" y="738" width="52" height="30"/><rect x="578" y="741" width="46" height="24" fill="url(#mO)"/></g>
<g id="o45"><rect class="o" x="575" y="770" width="52" height="28"/><rect x="578" y="773" width="46" height="22" fill="url(#mO)"/></g>
<g id="o46"><rect class="o" x="575" y="798" width="52" height="30"/><text font-size="4.1" x="578" y="807"><tspan x="578">Materiale per</tspan><tspan x="578" dy="5.2">prepararsi</tspan><tspan x="578" dy="5.2">all'admission test</tspan></text></g>
<g id="o47"><rect class="o" x="630" y="708" width="43" height="25"/><rect x="633" y="711" width="37" height="19" fill="url(#mO)"/></g>
<g id="o48"><rect class="o" x="630" y="735" width="43" height="25"/><text font-size="6.3" x="632" y="744"><tspan x="632">Simplified</tspan><tspan x="632" dy="8">process</tspan></text></g>
<g id="o49"><rect class="o" x="632" y="762" width="36" height="36"/><text font-size="5.2" x="634" y="770"><tspan x="634">Home</tspan><tspan x="634" dy="6.8">banking</tspan><tspan x="634" dy="6.8">facilitato</tspan><tspan x="634" dy="6.8">(CBILL)</tspan></text></g>
<g id="o50"><rect class="o" x="630" y="802" width="43" height="25"/><rect x="633" y="805" width="37" height="19" fill="url(#mO)"/></g>
<g id="o51"><rect class="o" x="675" y="802" width="23" height="25"/><text font-size="5" x="677" y="817">Survey</text></g>
<g id="o52"><rect class="o" x="672" y="767" width="28" height="30"/><rect x="675" y="770" width="22" height="24" fill="url(#mO)"/></g>
<g id="o53"><rect class="o" x="678" y="710" width="32" height="30"/><rect x="681" y="713" width="26" height="24" fill="url(#mO)"/></g>
<g id="o54"><rect class="o" x="712" y="710" width="28" height="30"/><text font-size="5.2" x="714" y="718"><tspan x="714">Rivedere</tspan><tspan x="714" dy="6.8">il servizio</tspan><tspan x="714" dy="6.8">bus</tspan></text></g>
<g id="o55"><rect class="o" x="678" y="742" width="42" height="23"/><rect x="681" y="745" width="36" height="17" fill="url(#mO)"/></g>
<g id="o56"><rect class="o" x="722" y="743" width="38" height="22"/><text font-size="4.2" x="724" y="752"><tspan x="724">Migliorare il</tspan><tspan x="724" dy="5.5">servizio divise</tspan></text></g>
<g id="o57"><rect class="o" x="703" y="768" width="52" height="85"/><rect x="706" y="771" width="46" height="79" fill="url(#mO)"/></g>
<g id="o58"><rect class="o" x="707" y="853" width="43" height="27"/><rect x="710" y="856" width="37" height="21" fill="url(#mO)"/></g>
<g id="o59"><rect class="o" x="707" y="880" width="43" height="20"/><text font-size="3.8" x="709" y="888"><tspan x="709">Kit passaparola</tspan><tspan x="709" dy="5">x famiglie BES</tspan></text></g>
<g id="o60"><rect class="o" x="707" y="900" width="43" height="27"/><text font-size="6.5" x="709" y="910"><tspan x="709">Welcome</tspan><tspan x="709" dy="9">pack</tspan></text></g>
<g id="o61"><rect class="o" x="660" y="830" width="38" height="22"/><text font-size="3.7" x="662" y="838"><tspan x="662">Export dati da</tspan><tspan x="662" dy="5">Hubspot a MY?</tspan></text></g>
<g id="o62"><rect class="o" x="600" y="842" width="62" height="35"/><rect x="603" y="845" width="56" height="29" fill="url(#mO)"/></g>
<g id="o63"><rect class="o" x="617" y="880" width="45" height="25"/><rect x="620" y="883" width="39" height="19" fill="url(#mO)"/></g>
<g id="o64"><rect class="o" x="635" y="907" width="58" height="33"/><text font-size="3.5" x="638" y="915"><tspan x="638">Uscire dal MY con NL o</tspan><tspan x="638" dy="4.6">comunicazioni per</tspan><tspan x="638" dy="4.6">dare la possibilità ai</tspan><tspan x="638" dy="4.6">genitori di condividere.</tspan></text></g>
</g>
</svg>
